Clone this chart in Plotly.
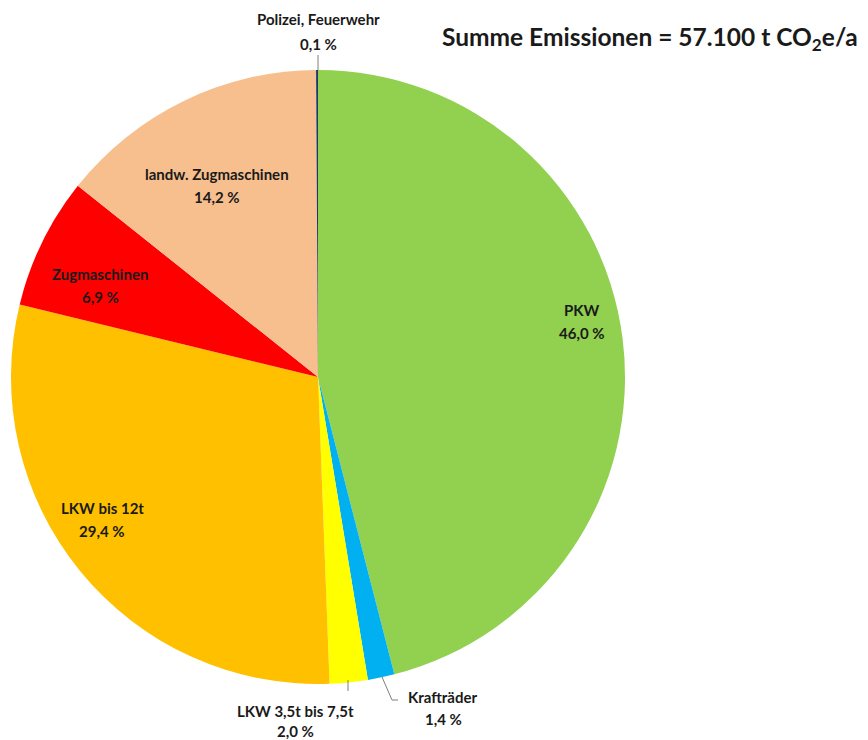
import plotly.graph_objects as go

W, H = 868, 740

categories = ["PKW", "Krafträder", "LKW 3,5t bis 7,5t", "LKW bis 12t",
              "Zugmaschinen", "landw. Zugmaschinen", "Polizei, Feuerwehr"]
shares = [46.0, 1.4, 2.0, 29.4, 6.9, 14.2, 0.1]
value_labels = ["46,0 %", "1,4 %", "2,0 %", "29,4 %", "6,9 %", "14,2 %", "0,1 %"]
colors = ["#92D050", "#00B0F0", "#FFFF00", "#FFC000", "#FF0000", "#F7BE8E", "#1F3864"]
total_title = "Summe Emissionen = 57.100 t CO<sub>2</sub>e/a"

# layout (pixel) helpers
cx, cy, R = 318, 377, 307
def px(x):
    return x / W
def py(y):
    return 1 - y / H

# label centres in pixels (layout only): (x, y of first line, y of second line)
label_pos = {
    "PKW": (582, 310, 333),
    "Krafträder": (443, 697, 719),
    "LKW 3,5t bis 7,5t": (295, 711, 731),
    "LKW bis 12t": (102, 508, 531),
    "Zugmaschinen": (100, 274, 297),
    "landw. Zugmaschinen": (217, 174, 197),
    "Polizei, Feuerwehr": (318, 19, 44),
}

fig = go.Figure(go.Pie(
    labels=categories,
    values=shares,
    sort=False,
    direction="clockwise",
    rotation=0,
    marker=dict(colors=colors, line=dict(width=0)),
    textinfo="none",
    hoverinfo="label+percent",
    showlegend=False,
    domain=dict(x=[px(cx - R), px(cx + R)],
                y=[py(cy + R), py(cy - R)]),
))

FONT = "Lato, Open Sans, sans-serif"
annotations = []
for cat, val in zip(categories, value_labels):
    x, y1, y2 = label_pos[cat]
    for txt, yy in ((cat, y1), (val, y2)):
        annotations.append(dict(
            x=px(x), y=py(yy), xref="paper", yref="paper",
            text=f"<b>{txt}</b>",
            showarrow=False, xanchor="center", yanchor="middle",
            font=dict(family=FONT, size=15, color="#1a1a1a"),
        ))
annotations.append(dict(
    x=px(440), y=py(38), xref="paper", yref="paper",
    text=f"<b>{total_title}</b>", showarrow=False,
    xanchor="left", yanchor="middle",
    font=dict(family=FONT, size=24.5, color="#1a1a1a"),
))

line_style = dict(color="#7f7f7f", width=1)
shapes = [
    dict(type="line", xref="paper", yref="paper",
         x0=px(318), y0=py(70), x1=px(318), y1=py(55), line=line_style),
    dict(type="path", xref="paper", yref="paper",
         path=f"M {px(382)},{py(677)} L {px(392)},{py(700)} L {px(398)},{py(700)}",
         line=line_style),
    dict(type="line", xref="paper", yref="paper",
         x0=px(348), y0=py(680), x1=px(348), y1=py(691), line=line_style),
]

fig.update_layout(
    width=W, height=H,
    margin=dict(l=0, r=0, t=0, b=0),
    paper_bgcolor="white", plot_bgcolor="white",
    annotations=annotations, shapes=shapes,
)

fig.write_html("out.html", config={"displayModeBar": False})

# remove the browser's default body margin so the figure fills the window
with open("out.html", "r", encoding="utf-8") as f:
    html = f.read()
html = html.replace("<head>", "<head><style>html,body{margin:0;padding:0;overflow:hidden;}</style>", 1)
with open("out.html", "w", encoding="utf-8") as f:
    f.write(html)
